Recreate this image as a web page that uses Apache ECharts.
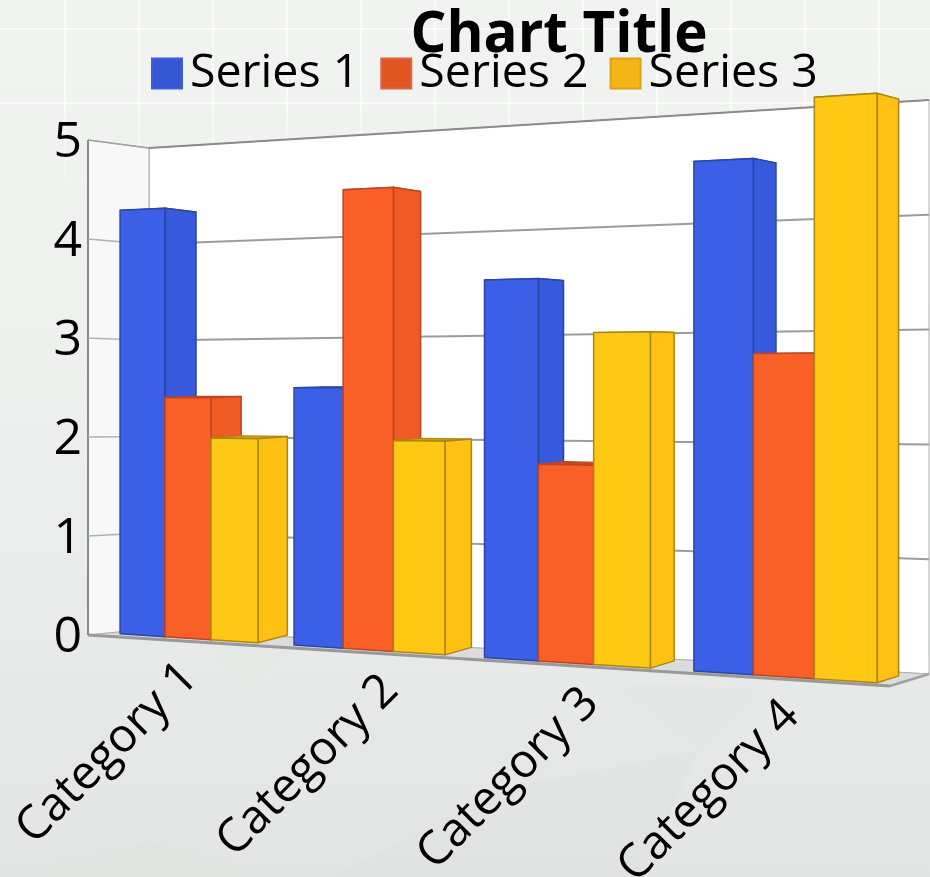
<!DOCTYPE html>
<html><head><meta charset="utf-8">
<style>
html,body{margin:0;padding:0;width:930px;height:877px;overflow:hidden;background:linear-gradient(180deg,#f1f3f1 0%,#eff1ef 35%,#e9eaea 70%,#e3e5e4 100%);}
#lines{position:absolute;left:0;top:0;width:930px;height:877px;
background-image:
 repeating-linear-gradient(90deg,transparent 0 64px,rgba(255,255,255,.6) 64px 66px,transparent 66px 74px),
 repeating-linear-gradient(180deg,transparent 0 28px,rgba(255,255,255,.6) 28px 30px,transparent 30px 74px);
-webkit-mask-image:linear-gradient(180deg,#000 0,#000 110px,transparent 200px);mask-image:linear-gradient(180deg,#000 0,#000 110px,transparent 200px);}
#shapes{position:absolute;left:0;top:0}
#main{position:absolute;left:0;top:0;width:930px;height:877px}
</style>
<script src="https://cdn.jsdelivr.net/npm/echarts@6/dist/echarts.min.js"></script>
</head><body>
<svg id="shapes" width="930" height="877">
<polygon points="0,877 150,842 290,877" fill="#dfe3e0" opacity=".6"/>
<polygon points="205,640 305,640 240,700" fill="#e6e9e6" opacity=".7"/>
<polygon points="600,680 770,690 700,750" fill="#dfe3e0" opacity=".3"/>
<polygon points="330,877 500,790 700,750 640,877" fill="#dde0de" opacity=".25"/>
</svg>
<div id="lines"></div>
<div id="main"></div>
<script>
const categories = ['Category 1','Category 2','Category 3','Category 4'];
const series1 = [4.3, 2.5, 3.5, 4.5];
const series2 = [2.4, 4.4, 1.8, 2.8];
const series3 = [2, 2, 3, 5];
const seriesNames = ['Series 1','Series 2','Series 3'];
const yTicks = [0,1,2,3,4,5];

// perspective box: front and back planes of the walls, and of the bars
const FRONT = {l:88, r:890, lb:635, lt:140, rb:686, rt:92};
const BACK  = {l:149, r:929, lb:629, lt:148, rb:674, rt:100};
const BAR_FRONT = {l:88, r:890, lb:631.8, lt:143.3, rb:683.6, rt:92.4};
const BAR_BACK  = {l:120.5, r:911.5, lb:624, lt:149, rb:676.7, rt:98.3};
const ALPHA = 0.0233, BETA = 0.988;

function planePt(q, X, V){
  const hl = q.lb-q.lt, hr = q.rb-q.rt, c = 1-hl/hr;
  const f = (1-c)*X/(1-c*X);
  const yb = q.lb+(q.rb-q.lb)*f, yt = q.lt+(q.rt-q.lt)*f;
  return [q.l+(q.r-q.l)*f, yb+(yt-yb)*V];
}
const wall = (X,V,D)=>planePt(D?BACK:FRONT,X,V);
const bar = (X,V,D)=>planePt(D?BAR_BACK:BAR_FRONT,X,V);
const poly = (points,fill,stroke,lw)=>({type:'polygon',shape:{points},silent:true,
  style:{fill,stroke,lineWidth:lw===undefined?1:lw,lineJoin:'round'}});
const line = (a,b,stroke,lw)=>({type:'line',silent:true,shape:{x1:a[0],y1:a[1],x2:b[0],y2:b[1]},style:{stroke,lineWidth:lw}});

const PAL = [
 {front:'#3b5fe6',side:'#3759dc',top:'#2f4cc0',edge:'#2b44a6',legend:'#3557d3',legendEdge:'#3b5fe0'},
 {front:'#fa5f28',side:'#f05a25',top:'#c9491c',edge:'#b9471f',legend:'#e05522',legendEdge:'#e2643a'},
 {front:'#ffc814',side:'#fdc013',top:'#d9a512',edge:'#ab8613',legend:'#f6b516',legendEdge:'#dca11a'}
];

function barRenderer(si){
  return function(params,api){
    const cs = params.coordSys, cat = api.value(0), val = api.value(1);
    const p0 = api.coord([cat,0]), pt = api.coord([cat,val]);
    const band = api.size([1,0])[0], bw = band*0.8/3;
    const flatL = p0[0]-band*0.4+si*bw, flatR = flatL+bw;
    const XL = ALPHA+BETA*(flatL-cs.x)/cs.width, XR = ALPHA+BETA*(flatR-cs.x)/cs.width;
    const V = (cs.y+cs.height-pt[1])/cs.height;
    const c = PAL[si];
    const fbl=bar(XL,0,0), fbr=bar(XR,0,0), ftl=bar(XL,V,0), ftr=bar(XR,V,0);
    const bbr=bar(XR,0,1), btr=bar(XR,V,1), btl=bar(XL,V,1);
    return {type:'group',children:[
      poly([ftl,ftr,btr,btl],c.top,c.edge,1.2),
      poly([fbr,bbr,btr,ftr],c.side,c.edge,1.5),
      poly([fbl,fbr,ftr,ftl],c.front,c.edge,1.5)
    ]};
  };
}
function wallRenderer(params,api){
  const cs = params.coordSys, v = api.value(0);
  const V = (cs.y+cs.height-api.coord([0,v])[1])/cs.height;
  const kids = [];
  if(v===0){
    kids.push(poly([wall(0,0,1),wall(1,0,1),wall(1,1,1),wall(0,1,1)],'#ffffff','#b5b5b5',1));
    kids.push(poly([wall(0,0,0),wall(0,0,1),wall(0,1,1),wall(0,1,0)],'rgba(248,248,248,.92)','#a8a8a8',1));
    kids.push(poly([wall(0,0,0),wall(1,0,0),wall(1,0,1),wall(0,0,1)],'#dcdcdc','#b0b0b0',1));
    kids.push(line(wall(0,0,0),wall(1,0,0),'#999999',3));
    kids.push(line(wall(1,0,0),wall(1,0,1),'#a0a0a0',2.5));
    kids.push(line(wall(0,0,0),wall(0,1,0),'#8a8a8a',2));
  } else {
    const col = v===5?'#8a8a8a':'#9c9c9c', lw = v===5?2.2:2;
    kids.push(line(wall(0,V,0),wall(0,V,1),v===5?'#a0a0a0':'#b0b0b0',1.4));
    kids.push(line(wall(0,V,1),wall(1,V,1),col,lw));
  }
  return {type:'group',children:kids};
}
function catLabelRenderer(params,api){
  const cs = params.coordSys, i = api.value(0);
  const c = api.coord([i,0]), u = (c[0]-cs.x)/cs.width;
  const y = FRONT.lb+(FRONT.rb-FRONT.lb)*u;
  return {type:'text',silent:true,x:c[0]+2,y:y+29,rotation:Math.PI/4,
    style:{x:0,y:0,text:categories[i],align:'right',verticalAlign:'middle',fill:'#000',
      font:'47px "Open Sans"'}};
}
const data = s=>s.map((v,i)=>[i,v]);
const mk = (name,si,vals)=>({type:'custom',name,coordinateSystem:'cartesian2d',clip:false,
  itemStyle:{color:PAL[si].legend,borderColor:PAL[si].legendEdge,borderWidth:1},
  renderItem:barRenderer(si),data:data(vals),encode:{x:0,y:1},z:3,animation:false});

const chart = echarts.init(document.getElementById('main'),null,{renderer:'canvas'});
chart.setOption({
  animation:false,
  backgroundColor:'transparent',
  title:{text:'Chart Title',left:554,textAlign:'center',top:2,
    textStyle:{fontFamily:'Open Sans',fontWeight:'bold',fontSize:56.5,color:'#000'}},
  legend:{data:seriesNames,left:146,top:45,itemWidth:30,itemHeight:30,itemGap:21,icon:'rect',
    textStyle:{fontFamily:'Open Sans',fontSize:46.5,color:'#000',padding:[0,0,0,3]}},
  grid:{left:FRONT.l,top:FRONT.lt,width:FRONT.r-FRONT.l,height:FRONT.lb-FRONT.lt,containLabel:false},
  xAxis:{type:'category',data:categories,show:false},
  yAxis:{type:'value',min:0,max:5,interval:1,
    axisLine:{show:false},axisTick:{show:false},splitLine:{show:false},
    axisLabel:{margin:6,color:'#000',formatter:'{t|{value}}',
      rich:{t:{fontFamily:'Open Sans',fontSize:50,lineHeight:50,color:'#000',padding:[6,0,0,0]}}}},
  series:[
    {type:'custom',name:'walls',coordinateSystem:'cartesian2d',clip:false,renderItem:wallRenderer,
      data:yTicks.map(v=>[v]),encode:{y:0},z:1,animation:false},
    mk(seriesNames[0],0,series1),
    mk(seriesNames[1],1,series2),
    mk(seriesNames[2],2,series3),
    {type:'custom',name:'labels',coordinateSystem:'cartesian2d',clip:false,renderItem:catLabelRenderer,
      data:categories.map((c,i)=>[i]),encode:{x:0},z:4,animation:false}
  ]
});
</script>
</body></html>
